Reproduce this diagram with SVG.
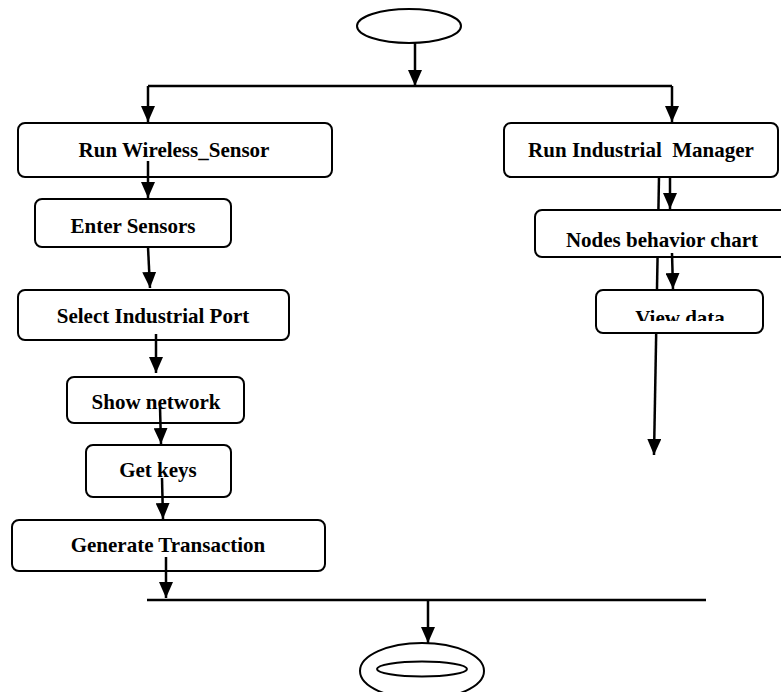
<svg xmlns="http://www.w3.org/2000/svg" width="781" height="692" viewBox="0 0 781 692">
<style>
.box{fill:#fff;stroke:#000;stroke-width:2}
.term{fill:#fff;stroke:#000;stroke-width:2}
.lbl{font-family:"Liberation Serif","Times New Roman",serif;font-weight:bold;font-size:21px;fill:#000;text-anchor:middle}
.con{fill:none;stroke:#000;stroke-width:2.5}
</style>
<defs>
<marker id="ah" viewBox="0 0 16 14" refX="16" refY="7" markerWidth="16" markerHeight="14" markerUnits="userSpaceOnUse" orient="auto">
<path d="M0,0 L16,7 L0,14 Z" fill="#000"/>
</marker>
<clipPath id="vclip"><rect x="590" y="290" width="180" height="31"/></clipPath>
</defs>
<rect width="781" height="692" fill="#fff"/>
<g id="connectors-under">
<path class="con" d="M659,177 L654,455" marker-end="url(#ah)"/>
</g>
<g id="start"><ellipse class="term" cx="409" cy="26" rx="52" ry="17"/></g>
<g id="run-wireless-sensor"><rect class="box" x="18" y="123" width="314" height="54" rx="7"/><text class="lbl" x="174" y="157">Run Wireless_Sensor</text></g>
<g id="enter-sensors"><rect class="box" x="35" y="199" width="196" height="48" rx="7"/><text class="lbl" x="133" y="233">Enter Sensors</text></g>
<g id="select-industrial-port"><rect class="box" x="18" y="290" width="271" height="50" rx="7"/><text class="lbl" x="153" y="323">Select Industrial Port</text></g>
<g id="show-network"><rect class="box" x="67" y="377" width="177" height="46" rx="7"/><text class="lbl" x="156" y="409">Show network</text></g>
<g id="get-keys"><rect class="box" x="86" y="445" width="145" height="52" rx="7"/><text class="lbl" x="158" y="477">Get keys</text></g>
<g id="generate-transaction"><rect class="box" x="12" y="520" width="313" height="51" rx="7"/><text class="lbl" x="168" y="552">Generate Transaction</text></g>
<g id="run-industrial-manager"><rect class="box" x="504" y="123" width="274" height="54" rx="7"/><text class="lbl" x="641" y="157" xml:space="preserve">Run Industrial  Manager</text></g>
<g id="nodes-behavior-chart"><rect class="box" x="535" y="210" width="260" height="47" rx="7"/><text class="lbl" x="662" y="247">Nodes behavior chart</text></g>
<g id="view-data"><rect class="box" x="596" y="290" width="167" height="43" rx="7"/><text class="lbl" x="680" y="325" clip-path="url(#vclip)">View data</text></g>
<g id="end"><ellipse class="term" cx="422" cy="671" rx="62" ry="28"/><ellipse class="term" cx="422" cy="669" rx="45" ry="7.5"/></g>
<g id="connectors">
<path class="con" d="M415,43 L415,86" marker-end="url(#ah)"/>
<path class="con" d="M148,86 L672,86"/>
<path class="con" d="M148,86 L148,122" marker-end="url(#ah)"/>
<path class="con" d="M672,86 L672,122" marker-end="url(#ah)"/>
<path class="con" d="M148,161 L148,198" marker-end="url(#ah)"/>
<path class="con" d="M148,247 L150,288" marker-end="url(#ah)"/>
<path class="con" d="M156,334 L156,373" marker-end="url(#ah)"/>
<path class="con" d="M160,407 L161,444" marker-end="url(#ah)"/>
<path class="con" d="M162,478 L163,519" marker-end="url(#ah)"/>
<path class="con" d="M166,557 L166,598" marker-end="url(#ah)"/>
<path class="con" d="M147,600 L706,600"/>
<path class="con" d="M428,600 L428,643" marker-end="url(#ah)"/>
<path class="con" d="M670,177 L670,209" marker-end="url(#ah)"/>
<path class="con" d="M672,253 L673,289" marker-end="url(#ah)"/>
</g>
</svg>
